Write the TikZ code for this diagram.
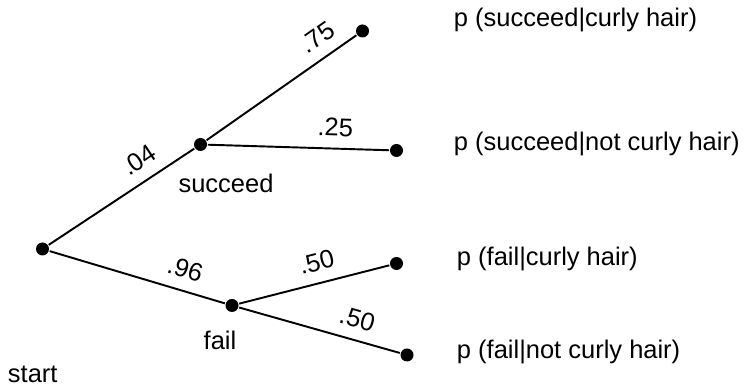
\documentclass[tikz,border=0pt]{standalone}
\usepackage{fontspec}
\setmainfont{Liberation Sans}
\begin{document}
\begin{tikzpicture}[line width=1.1pt, font=\fontsize{14.5}{17}\selectfont,
    dot/.style={circle, fill, inner sep=0pt, minimum size=0.26cm},
    prob/.style={sloped, above=3pt},
    lbl/.style={inner sep=0pt}]
    \useasboundingbox (0,0) rectangle (14.9,7.72);

    % Points
    \node[dot] (start) at (0.85, 2.74) {};
    \node[dot] (succ) at (4.01, 4.83) {};
    \node[dot] (fail) at (4.64, 1.61) {};
    \node[dot] (sc) at (7.25, 7.10) {};
    \node[dot] (sn) at (7.93, 4.71) {};
    \node[dot] (fc) at (7.93, 2.45) {};
    \node[dot] (fn) at (8.14, 0.62) {};

    % Branches
    \draw (start) -- (succ) node[prob, pos=0.70] {.04};
    \draw (start) -- (fail) node[prob, pos=0.74] {.96};
    \draw (succ) -- (sc) node[prob, pos=0.82] {.75};
    \draw (succ) -- (sn) node[prob, pos=0.70] {.25};
    \draw (fail) -- (fc) node[prob, pos=0.55] {.50};
    \draw (fail) -- (fn) node[prob, pos=0.70] {.50};

    % Labels
    \node[lbl, anchor=base west] (startlbl) at (0.14, 0.06) {start};
    \node[lbl, anchor=base] (succlbl) at (4.52, 3.86) {succeed};
    \node[lbl, anchor=base] (faillbl) at (4.40, 0.72) {fail};
    \node[lbl, anchor=base west] (sclbl) at (9.06, 7.18) {p (succeed|curly hair)};
    \node[lbl, anchor=base west] (snlbl) at (9.06, 4.70) {p (succeed|not curly hair)};
    \node[lbl, anchor=base west] (fclbl) at (9.12, 2.40) {p (fail|curly hair)};
    \node[lbl, anchor=base west] (fnlbl) at (9.12, 0.54) {p (fail|not curly hair)};
\end{tikzpicture}
\end{document}
